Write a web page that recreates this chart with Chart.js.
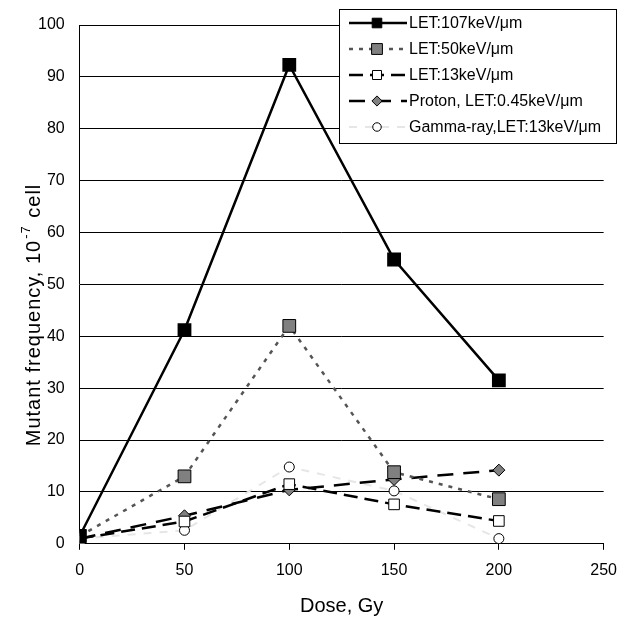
<!DOCTYPE html>
<html>
<head>
<meta charset="utf-8">
<script src="https://cdn.jsdelivr.net/npm/chart.js@4"></script>
<style>
  html, body { margin: 0; padding: 0; background: #fff; }
  #wrap { width: 628px; height: 619px; }
</style>
</head>
<body>
<div id="wrap"><canvas id="myChart" width="628" height="619"></canvas></div>
<script>
// Dosis (Gy) y frecuencias
const doses = [0, 50, 100, 150, 200];
const let107 = [1.5, 41.2, 92.3, 54.8, 31.5];
const let50 = [1.5, 13.0, 42.0, 13.8, 8.6];
const let13 = [1.0, 4.3, 11.5, 7.6, 4.4];
const proton = [1.0, 5.4, 10.4, 12.4, 14.2];
const gamma = [1.0, 2.6, 14.8, 10.2, 1.0];
const seriesNames = ['LET:107keV/μm', 'LET:50keV/μm', 'LET:13keV/μm', 'Proton, LET:0.45keV/μm', 'Gamma-ray,LET:13keV/μm'];
const xTicks = [0, 50, 100, 150, 200, 250];
const yTicks = [0, 10, 20, 30, 40, 50, 60, 70, 80, 90, 100];

const FONT = 'Arial, "Liberation Sans", sans-serif';
const pts = arr => doses.map((d, i) => ({ x: d, y: arr[i] }));

function marcador(ctx, style, x, y, r, fill) {
    ctx.fillStyle = fill;
    ctx.strokeStyle = '#000';
    ctx.lineWidth = 1;
    ctx.setLineDash([]);
    ctx.beginPath();
    if (style === 'rect') {
        const s = r / Math.SQRT2;
        ctx.rect(x - s, y - s, 2 * s, 2 * s);
    } else if (style === 'rectRot') {
        ctx.moveTo(x - r, y); ctx.lineTo(x, y - r);
        ctx.lineTo(x + r, y); ctx.lineTo(x, y + r); ctx.closePath();
    } else {
        ctx.arc(x, y, r, 0, Math.PI * 2);
    }
    ctx.fill();
    ctx.stroke();
}

// Leyenda dibujada a mano (muestras con línea + marcador)
const legendBox = {
    id: 'legendBox',
    afterDraw(chart) {
        const ctx = chart.ctx;
        const x0 = 339, y0 = 9, w = 277, h = 134;
        ctx.save();
        ctx.fillStyle = '#fff';
        ctx.fillRect(x0, y0, w, h);
        ctx.strokeStyle = '#000';
        ctx.lineWidth = 1;
        ctx.strokeRect(x0 + 0.5, y0 + 0.5, w, h);
        ctx.font = '16px ' + FONT;
        ctx.textBaseline = 'middle';
        chart.data.datasets.forEach((ds, i) => {
            const cy = y0 + 14 + i * 26;
            ctx.strokeStyle = ds.borderColor;
            ctx.lineWidth = ds.borderWidth;
            ctx.setLineDash(ds.borderDash || []);
            ctx.beginPath();
            ctx.moveTo(x0 + 10, cy);
            ctx.lineTo(x0 + 68, cy);
            ctx.stroke();
            marcador(ctx, ds.pointStyle, x0 + 38, cy, ds.pointRadius * 0.85, ds.pointBackgroundColor);
            ctx.fillStyle = '#000';
            ctx.fillText(ds.label, x0 + 70, cy + 1);
        });
        ctx.restore();
    }
};

// Título del eje Y con superíndice
const yTitle = {
    id: 'yTitle',
    afterDraw(chart) {
        const ctx = chart.ctx;
        const a = 'Mutant frequency, 10', sup = '-7', b = ' cell';
        ctx.save();
        ctx.translate(33, 316);
        ctx.rotate(-Math.PI / 2);
        ctx.fillStyle = '#000';
        ctx.textBaseline = 'alphabetic';
        ctx.letterSpacing = '1px';
        ctx.font = '20px ' + FONT;
        const wa = ctx.measureText(a).width, wb = ctx.measureText(b).width;
        ctx.font = '13px ' + FONT;
        const ws = ctx.measureText(sup).width;
        let x = -(wa + ws + wb) / 2;
        ctx.font = '20px ' + FONT;
        ctx.fillText(a, x, 7);
        x += wa;
        ctx.font = '13px ' + FONT;
        ctx.fillText(sup, x + 1, -3);
        x += ws + 2;
        ctx.font = '20px ' + FONT;
        ctx.fillText(b, x, 7);
        ctx.restore();
    }
};

const ctx = document.getElementById('myChart').getContext('2d');
const myChart = new Chart(ctx, {
    type: 'line',
    data: {
        datasets: [
            {
                label: seriesNames[0], data: pts(let107),
                borderColor: '#000', borderWidth: 2.5,
                pointStyle: 'rect', pointRadius: 8,
                pointBackgroundColor: '#000', pointBorderColor: '#000', order: 0
            },
            {
                label: seriesNames[1], data: pts(let50),
                borderColor: '#555', borderWidth: 2.5, borderDash: [4, 6],
                pointStyle: 'rect', pointRadius: 9,
                pointBackgroundColor: '#808080', pointBorderColor: '#000', pointBorderWidth: 1, order: 1
            },
            {
                label: seriesNames[2], data: pts(let13),
                borderColor: '#000', borderWidth: 2.5, borderDash: [14, 7],
                pointStyle: 'rect', pointRadius: 7.5,
                pointBackgroundColor: '#fff', pointBorderColor: '#000', pointBorderWidth: 1, order: 2
            },
            {
                label: seriesNames[3], data: pts(proton),
                borderColor: '#000', borderWidth: 2.5, borderDash: [16, 10],
                pointStyle: 'rectRot', pointRadius: 6,
                pointBackgroundColor: '#808080', pointBorderColor: '#000', pointBorderWidth: 1, order: 3
            },
            {
                label: seriesNames[4], data: pts(gamma),
                borderColor: '#e6e6e6', borderWidth: 2, borderDash: [8, 8],
                pointStyle: 'circle', pointRadius: 5,
                pointBackgroundColor: '#fff', pointBorderColor: '#000', pointBorderWidth: 1, order: 4
            }
        ]
    },
    options: {
        responsive: false,
        animation: false,
        layout: { padding: { left: 23, right: 24, top: 25, bottom: 1 } },
        plugins: {
            legend: { display: false },
            tooltip: { enabled: false }
        },
        scales: {
            x: {
                type: 'linear', min: 0, max: 250,
                afterBuildTicks: s => { s.ticks = xTicks.map(v => ({ value: v })); },
                grid: { display: true, drawOnChartArea: false, drawTicks: true, tickLength: 6, color: '#000' },
                border: { color: '#000', width: 1 },
                ticks: { color: '#000', font: { family: FONT, size: 16 }, padding: 11, maxRotation: 0 },
                title: { display: true, text: 'Dose, Gy', color: '#000', font: { family: FONT, size: 20 }, padding: { top: 3, bottom: 0 } }
            },
            y: {
                min: 0, max: 100,
                afterBuildTicks: s => { s.ticks = yTicks.map(v => ({ value: v })); },
                grid: { color: '#000', lineWidth: 1, drawTicks: false },
                border: { color: '#000', width: 1 },
                ticks: { color: '#000', font: { family: FONT, size: 16 }, padding: 15 }
            }
        }
    },
    plugins: [legendBox, yTitle]
});
window.myChart = myChart;
</script>
</body>
</html>
